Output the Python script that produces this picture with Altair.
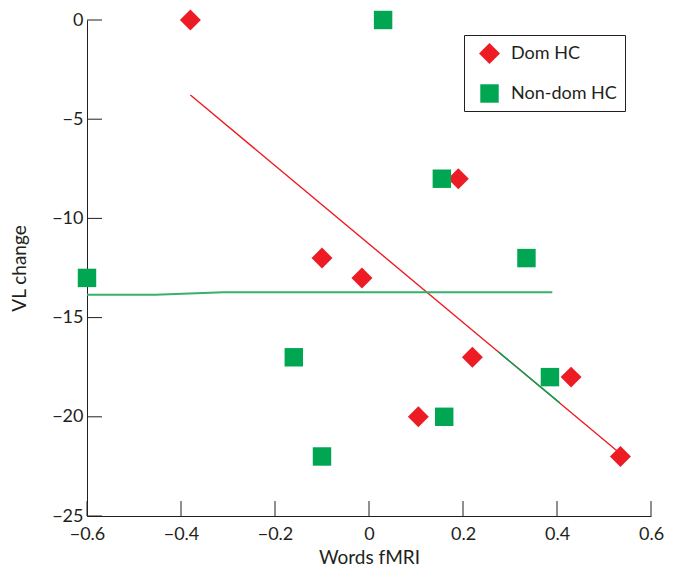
import altair as alt
import pandas as pd

# ---- data ----
dom_x = [-0.38, 0.19, -0.10, -0.015, 0.22, 0.43, 0.105, 0.535]
dom_y = [0, -8, -12, -13, -17, -18, -20, -22]
non_x = [0.03, 0.155, 0.335, -0.60, -0.16, 0.385, 0.16, -0.10]
non_y = [0, -8, -12, -13, -17, -18, -20, -22]

red_line_x = [-0.38, 0.537]
red_line_y = [-3.78, -21.9]
green_line_x = [-0.60, -0.455, -0.31, 0.39]
green_line_y = [-13.85, -13.85, -13.72, -13.72]
green_seg_x = [0.276, 0.406]
green_seg_y = [-16.74, -19.3]

x_ticks = [-0.6, -0.4, -0.2, 0, 0.2, 0.4, 0.6]
y_ticks = [0, -5, -10, -15, -20, -25]

groups = ["Dom HC", "Non-dom HC"]
TXT = "#231f20"
RED = "#ed1c24"
GREEN = "#00a651"
FONT = "Lato"

pts = pd.DataFrame({
    "x": dom_x + non_x,
    "y": dom_y + non_y,
    "g": [groups[0]] * len(dom_x) + [groups[1]] * len(non_x),
})

xs = alt.Scale(domain=[-0.6, 0.6], nice=False, zero=False)
ys = alt.Scale(domain=[-25, 0], nice=False, zero=False)

base_x = alt.X("x:Q", scale=xs, title="Words fMRI",
               axis=alt.Axis(values=x_ticks, grid=False, ticks=False, domain=True,
                             domainColor=TXT, labelPadding=9, labelFlush=False,
                             labelExpr="datum.value == 0 ? '0' : format(datum.value, '.1f')",
                             titlePadding=5))
base_y = alt.Y("y:Q", scale=ys, title="VL change",
               axis=alt.Axis(values=y_ticks, grid=False, ticks=False, domain=True,
                             domainColor=TXT, labelPadding=4, labelFlush=False,
                             titlePadding=22))

def line_layer(xv, yv, color, width):
    df = pd.DataFrame({"x": xv, "y": yv})
    return alt.Chart(df).mark_line(color=color, strokeWidth=width).encode(
        x=alt.X("x:Q", scale=xs), y=alt.Y("y:Q", scale=ys))

red_line = line_layer(red_line_x, red_line_y, RED, 1.4)
green_line = line_layer(green_line_x, green_line_y, "#35b26b", 2)
green_seg = line_layer(green_seg_x, green_seg_y, "#00a651", 1.4)

ytick_df = pd.DataFrame({"y": y_ticks})
ytick = alt.Chart(ytick_df).mark_rule(color=TXT, strokeWidth=1).encode(
    y=alt.Y("y:Q", scale=ys), x=alt.value(0), x2=alt.value(15))
xtick_df = pd.DataFrame({"x": x_ticks})
xtick = alt.Chart(xtick_df).mark_rule(color=TXT, strokeWidth=1).encode(
    x=alt.X("x:Q", scale=xs), y=alt.value(496), y2=alt.value(481))

points = alt.Chart(pts).mark_point(filled=True, opacity=1, strokeWidth=0).encode(
    x=base_x,
    y=base_y,
    color=alt.Color("g:N", scale=alt.Scale(domain=groups, range=[RED, GREEN]), title=None,
                    legend=alt.Legend(orient="none", legendX=377, legendY=15,
                                      strokeColor=TXT, padding=8, symbolOffset=7,
                                      labelFontSize=18, labelColor=TXT, labelFont=FONT,
                                      symbolSize=400, rowPadding=20, labelOffset=11,
                                      symbolStrokeWidth=0)),
    shape=alt.Shape("g:N", scale=alt.Scale(domain=groups, range=["diamond", "square"]), title=None),
    size=alt.Size("g:N", scale=alt.Scale(domain=groups, range=[440, 340]), legend=None),
)

chart = alt.layer(red_line, green_line, green_seg, ytick, xtick, points).properties(
    width=564, height=496,
    autosize=alt.AutoSizeParams(type="none"),
    padding={"left": 79, "top": 12, "right": 14, "bottom": 50},
).configure_view(stroke=None).configure_axis(
    labelFont=FONT, titleFont=FONT, labelFontSize=18, titleFontSize=19,
    labelColor=TXT, titleColor=TXT, titleFontWeight="normal",
)

chart.save("out.html", embed_options={"renderer": "svg", "actions": False})
